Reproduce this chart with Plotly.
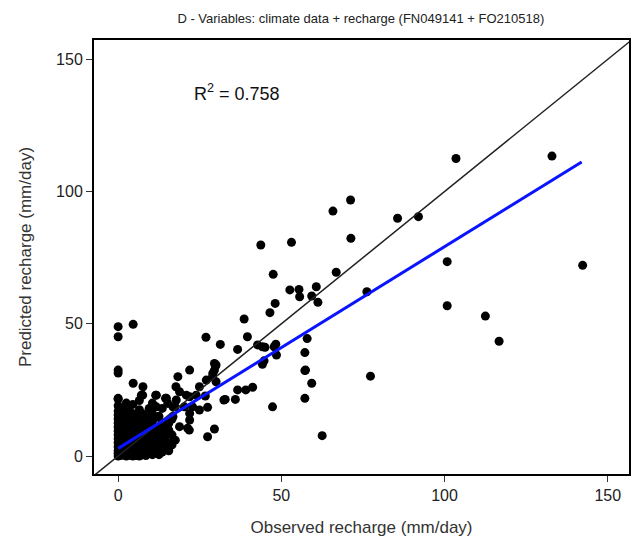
import plotly.graph_objects as go

# Scattered (isolated) points
obs_sparse = [103.5, 132.9, 85.6, 92.0, 100.8, 142.3, 100.8, 112.5, 116.7,
              71.2, 65.8, 71.3, 43.7, 53.1, 47.5, 66.8, 52.6, 55.4, 55.6, 60.7, 59.3, 61.2,
              76.2, 48.1, 46.5, 38.6, 26.9, 31.3, 36.6, 39.6, 42.7, 45.0, 48.3, 48.5, 57.9,
              57.2, 57.2, 44.2, 77.3, 29.8, 0.0, 0.0, 4.6, 0.0, 0.0, 44.2, 47.8, 57.4,
              59.3, 57.2, 47.3, 62.5, 29.5, 27.4, 21.9, 18.3, 30.0, 39.1, 41.2, 36.6,
              32.8, 35.9, 27.4, 26.7, 30.0, 29.0, 21.3, 22.8, 17.7, 24.9, 20.9, 18.8,
              16.8, 29.5, 28.9, 11.7, 15.2, 17.8, 21.9, 23.9, 20.3, 16.8, 21.9, 24.9,
              13.7, 18.8, 21.9, 29.5, 27.0, 32.4, 21.8, 4.6, 7.6, 7.1, 11.7, 14.8, 0.0,
              44.7]
pred_sparse = [112.5, 113.4, 89.9, 90.5, 73.5, 72.1, 56.8, 52.9, 43.4,
               96.8, 92.6, 82.3, 79.8, 80.8, 68.7, 69.5, 62.8, 63.0, 60.2, 64.0, 60.5, 58.1,
               62.1, 57.7, 54.2, 51.8, 44.9, 42.2, 40.3, 45.1, 42.0, 41.1, 42.3, 38.2, 44.4,
               39.1, 32.3, 34.7, 30.2, 34.0, 48.9, 45.1, 49.8, 32.5, 31.4, 41.3, 41.3, 32.5,
               27.5, 21.8, 18.6, 7.7, 10.2, 7.3, 32.5, 30.0, 34.4, 25.0, 26.0, 25.0,
               21.4, 21.4, 18.4, 22.7, 28.1, 31.3, 10.5, 18.6, 26.2, 26.2, 23.0, 24.3,
               18.6, 35.0, 30.0, 18.6, 19.9, 21.2, 22.4, 23.0, 18.6, 14.9, 16.1, 17.4,
               12.4, 11.1, 13.6, 32.5, 28.7, 21.2, 9.8, 27.5, 26.2, 23.0, 23.0, 21.8, 21.8,
               36.0]

# Dense cluster near the origin
obs_cluster = [0.0, 0.0, 0.0, 0.0, 0.0, 0.0, 0.0, 0.0, 0.0, 0.0, 0.0, 0.0, 0.0, 0.0, 0.0,
               0.8, 0.8, 0.8, 0.8, 0.8, 0.8, 0.8,
               1.5, 1.5, 1.5, 1.5, 1.5, 1.5, 1.5,
               2.5, 2.5, 2.5, 2.5, 2.5, 2.5, 2.5, 2.5,
               3.5, 3.5, 3.5, 3.5, 3.5, 3.5, 3.5,
               4.5, 4.5, 4.5, 4.5, 4.5, 4.5, 4.5, 4.5,
               5.5, 5.5, 5.5, 5.5, 5.5, 5.5,
               6.5, 6.5, 6.5, 6.5, 6.5, 6.5, 6.5, 6.5,
               7.5, 7.5, 7.5, 7.5, 7.5, 7.5, 7.5,
               8.5, 8.5, 8.5, 8.5, 8.5, 8.5,
               9.5, 9.5, 9.5, 9.5, 9.5, 9.5,
               10.5, 10.5, 10.5, 10.5, 10.5, 10.5, 10.5,
               11.5, 11.5, 11.5, 11.5, 11.5, 11.5,
               12.5, 12.5, 12.5, 12.5, 12.5,
               13.5, 13.5, 13.5, 13.5, 13.5,
               14.5, 14.5, 14.5, 14.5,
               15.5, 15.5, 15.5, 15.5,
               16.5, 16.5, 16.5,
               17.5, 17.5]
pred_cluster = [0.0, 1.0, 2.0, 3.5, 5.0, 6.5, 8.0, 9.5, 11.0, 12.5, 14.0, 15.5, 17.0, 19.0, 21.5,
                0.2, 1.0, 3.0, 6.0, 9.0, 12.0, 16.0,
                0.5, 2.5, 4.5, 7.5, 10.5, 13.5, 18.0,
                0.0, 1.5, 4.0, 7.0, 10.0, 13.0, 15.0, 20.0,
                0.3, 2.5, 5.5, 8.5, 11.5, 14.5, 17.0,
                0.0, 1.8, 4.2, 7.2, 10.5, 12.8, 16.0, 19.5,
                0.2, 3.0, 6.0, 9.0, 12.0, 15.0,
                0.0, 2.0, 5.0, 8.0, 11.0, 14.0, 17.5, 21.0,
                0.5, 3.5, 6.5, 9.5, 13.0, 16.0, 23.0,
                0.2, 2.5, 5.5, 8.5, 12.0, 15.0,
                1.0, 4.0, 7.0, 10.0, 13.5, 18.0,
                0.5, 2.5, 6.0, 9.0, 12.0, 16.0, 20.0,
                1.5, 4.5, 8.0, 11.0, 14.5, 23.0,
                0.5, 3.5, 7.0, 10.5, 15.0,
                1.5, 5.0, 9.0, 12.5, 18.0,
                3.5, 7.5, 11.0, 21.8,
                2.0, 5.0, 9.8, 12.4,
                4.2, 8.0, 14.0,
                6.0, 18.6]

observed = obs_sparse + obs_cluster
predicted = pred_sparse + pred_cluster

# 1:1 line and fitted regression line (end points)
one_to_one = [-10, 170]
fit_x = [0.0, 142.0]
fit_y = [2.9, 111.2]

r2_text = "R<sup>2</sup> = 0.758"
title_text = "D - Variables: climate data + recharge (FN049141 + FO210518)"
x_ticks = [0, 50, 100, 150]
y_ticks = [0, 50, 100, 150]

FONT = "Liberation Sans, Arial, sans-serif"

fig = go.Figure()
fig.add_trace(go.Scatter(x=observed, y=predicted, mode="markers",
                         marker=dict(color="black", size=9), showlegend=False))
fig.add_trace(go.Scatter(x=one_to_one, y=one_to_one, mode="lines",
                         line=dict(color="#222222", width=1.5), showlegend=False))
fig.add_trace(go.Scatter(x=fit_x, y=fit_y, mode="lines",
                         line=dict(color="#0a14ff", width=3), showlegend=False))

fig.add_annotation(x=22.5, y=137.6, text=r2_text, showarrow=False,
                   xanchor="left", yanchor="middle",
                   font=dict(family=FONT, size=18, color="#111111"))

fig.update_layout(
    width=633, height=545,
    margin=dict(l=94, r=2, t=40, b=71),
    paper_bgcolor="white", plot_bgcolor="white",
    title=dict(text=title_text, x=0.57, xanchor="center", y=0.967, yanchor="middle",
               font=dict(family=FONT, size=13, color="#222222")),
    font=dict(family=FONT),
)
axis_common = dict(showgrid=False, zeroline=False, showline=True, linecolor="black",
                   linewidth=2, mirror=True, ticks="outside", ticklen=6, tickwidth=1,
                   tickcolor="#333333",
                   tickfont=dict(family=FONT, size=16, color="#222222"))
fig.update_xaxes(range=[-7.4, 156.5], tickvals=x_ticks, **axis_common,
                 title=dict(text="Observed recharge (mm/day)", standoff=18,
                            font=dict(family=FONT, size=17, color="#333333")))
fig.update_yaxes(range=[-6.8, 157.3], tickvals=y_ticks, **axis_common,
                 title=dict(text="Predicted recharge (mm/day)", standoff=20,
                            font=dict(family=FONT, size=17, color="#333333")))

fig.write_html("out.html")
